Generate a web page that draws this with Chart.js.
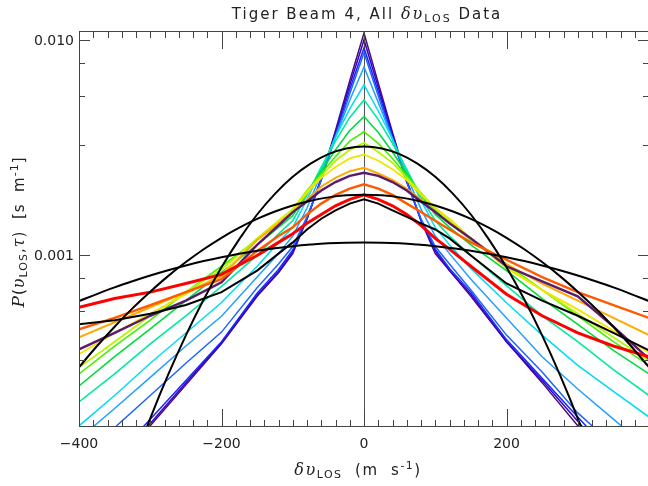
<!DOCTYPE html>
<html>
<head>
<meta charset="utf-8">
<script src="https://cdn.jsdelivr.net/npm/chart.js@4.4.0/dist/chart.umd.min.js"></script>
<style>
  html, body { margin: 0; padding: 0; background: #fff; overflow: hidden; }
  #wrap { width: 650px; height: 486px; }
</style>
</head>
<body>
<div id="wrap"><canvas id="c" width="650" height="486"></canvas></div>
<script>
// velocity bins (m/s) for the measured distributions
const vel = [-400,-350,-300,-250,-200,-150,-120,-100,-80,-60,-40,-20,0,20,40,60,80,100,120,150,200,250,300,350,400];

// P(v) per tau (s/m)
const purple   = [6.76e-5,1.05e-4,1.62e-4,2.51e-4,3.89e-4,6.46e-4,8.32e-4,1.02e-3,1.48e-3,2.29e-3,3.80e-3,6.46e-3,1.076e-2,6.31e-3,3.72e-3,2.24e-3,1.45e-3,1.02e-3,8.51e-4,6.46e-4,3.98e-4,2.57e-4,1.62e-4,1.05e-4,6.76e-5];
const violet   = [6.92e-5,1.07e-4,1.66e-4,2.57e-4,3.94e-4,6.53e-4,8.41e-4,1.035e-3,1.48e-3,2.27e-3,3.72e-3,6.17e-3,1.0e-2,6.03e-3,3.63e-3,2.21e-3,1.46e-3,1.05e-3,8.51e-4,6.61e-4,3.98e-4,2.63e-4,1.70e-4,1.10e-4,7.08e-5];
const blue     = [7.59e-5,1.15e-4,1.74e-4,2.63e-4,3.98e-4,6.68e-4,8.61e-4,1.06e-3,1.48e-3,2.24e-3,3.63e-3,5.89e-3,9.18e-3,5.75e-3,3.55e-3,2.19e-3,1.46e-3,1.07e-3,8.71e-4,6.76e-4,4.07e-4,2.69e-4,1.78e-4,1.18e-4,7.76e-5];
const dodger   = [1.12e-4,1.59e-4,2.24e-4,3.16e-4,4.41e-4,7.08e-4,9.12e-4,1.10e-3,1.51e-3,2.24e-3,3.55e-3,5.62e-3,8.71e-3,5.50e-3,3.47e-3,2.19e-3,1.48e-3,1.10e-3,9.12e-4,6.92e-4,4.27e-4,2.88e-4,1.86e-4,1.32e-4,9.33e-5];
const ltblue   = [1.41e-4,1.95e-4,2.72e-4,3.80e-4,5.22e-4,7.94e-4,1.02e-3,1.23e-3,1.66e-3,2.40e-3,3.55e-3,5.25e-3,7.50e-3,5.13e-3,3.47e-3,2.34e-3,1.64e-3,1.23e-3,1.02e-3,7.76e-4,5.13e-4,3.39e-4,2.40e-4,1.74e-4,1.26e-4];
const cyan     = [1.62e-4,2.24e-4,3.16e-4,4.37e-4,6.05e-4,8.91e-4,1.15e-3,1.35e-3,1.82e-3,2.51e-3,3.55e-3,4.79e-3,6.19e-3,4.68e-3,3.47e-3,2.46e-3,1.80e-3,1.35e-3,1.12e-3,8.71e-4,6.03e-4,4.27e-4,3.09e-4,2.34e-4,1.78e-4];
const aqua     = [2.09e-4,2.82e-4,3.89e-4,5.25e-4,7.18e-4,1.0e-3,1.26e-3,1.45e-3,1.91e-3,2.57e-3,3.39e-3,4.37e-3,5.27e-3,4.27e-3,3.31e-3,2.51e-3,1.86e-3,1.45e-3,1.23e-3,1.0e-3,7.24e-4,5.25e-4,3.98e-4,2.95e-4,2.24e-4];
const green    = [2.48e-4,3.39e-4,4.57e-4,6.17e-4,8.34e-4,1.12e-3,1.35e-3,1.53e-3,1.95e-3,2.46e-3,3.09e-3,3.80e-3,4.41e-3,3.72e-3,3.02e-3,2.40e-3,1.91e-3,1.55e-3,1.35e-3,1.12e-3,8.51e-4,6.31e-4,4.79e-4,3.63e-4,2.82e-4];
const lime     = [2.82e-4,3.80e-4,5.01e-4,6.76e-4,8.91e-4,1.18e-3,1.41e-3,1.62e-3,2.00e-3,2.40e-3,2.88e-3,3.39e-3,3.75e-3,3.31e-3,2.82e-3,2.34e-3,1.95e-3,1.62e-3,1.41e-3,1.18e-3,9.12e-4,6.92e-4,5.25e-4,3.98e-4,3.09e-4];
const ygreen   = [3.02e-4,3.98e-4,5.25e-4,6.76e-4,8.61e-4,1.20e-3,1.45e-3,1.64e-3,2.00e-3,2.34e-3,2.75e-3,3.09e-3,3.33e-3,3.02e-3,2.69e-3,2.29e-3,1.95e-3,1.66e-3,1.45e-3,1.20e-3,8.91e-4,6.92e-4,5.37e-4,4.17e-4,3.24e-4];
const yellow   = [3.48e-4,4.37e-4,5.37e-4,6.61e-4,8.17e-4,1.18e-3,1.45e-3,1.62e-3,1.95e-3,2.29e-3,2.57e-3,2.82e-3,2.94e-3,2.75e-3,2.51e-3,2.24e-3,1.91e-3,1.66e-3,1.48e-3,1.20e-3,8.71e-4,6.92e-4,5.62e-4,4.47e-4,3.55e-4];
const orange   = [4.17e-4,4.90e-4,5.75e-4,6.76e-4,8.00e-4,1.18e-3,1.41e-3,1.59e-3,1.82e-3,2.09e-3,2.29e-3,2.46e-3,2.55e-3,2.40e-3,2.24e-3,2.04e-3,1.82e-3,1.59e-3,1.41e-3,1.20e-3,9.12e-4,7.41e-4,6.17e-4,5.13e-4,4.27e-4];
const plum     = [3.67e-4,4.37e-4,5.25e-4,6.17e-4,7.50e-4,1.12e-3,1.38e-3,1.59e-3,1.78e-3,2.00e-3,2.19e-3,2.34e-3,2.42e-3,2.34e-3,2.19e-3,2.00e-3,1.78e-3,1.59e-3,1.41e-3,1.20e-3,8.91e-4,7.59e-4,6.46e-4,4.68e-4,3.31e-4];
const redorange= [4.54e-4,5.13e-4,5.89e-4,6.76e-4,7.76e-4,1.05e-3,1.23e-3,1.35e-3,1.55e-3,1.74e-3,1.91e-3,2.04e-3,2.14e-3,2.04e-3,1.91e-3,1.74e-3,1.59e-3,1.45e-3,1.32e-3,1.15e-3,9.55e-4,7.94e-4,6.76e-4,5.89e-4,5.13e-4];
const red      = [5.75e-4,6.31e-4,6.76e-4,7.41e-4,8.17e-4,1.0e-3,1.15e-3,1.26e-3,1.41e-3,1.55e-3,1.70e-3,1.82e-3,1.91e-3,1.82e-3,1.70e-3,1.55e-3,1.38e-3,1.20e-3,1.07e-3,8.91e-4,6.61e-4,5.25e-4,4.37e-4,3.80e-4,3.39e-4];
const allData  = [4.79e-4,5.01e-4,5.37e-4,5.89e-4,6.76e-4,8.51e-4,1.02e-3,1.15e-3,1.32e-3,1.48e-3,1.62e-3,1.74e-3,1.82e-3,1.74e-3,1.62e-3,1.51e-3,1.41e-3,1.32e-3,1.20e-3,1.0e-3,7.41e-4,6.17e-4,5.25e-4,4.37e-4,3.63e-4];

// gaussian fits (black)
const fitVel = [-400,-375,-350,-325,-300,-275,-250,-225,-200,-175,-150,-125,-100,-75,-50,-25,0,25,50,75,100,125,150,175,200,225,250,275,300,325,350,375,400];
const fitNarrow = [1.83e-5,3.43e-5,6.15e-5,1.06e-4,1.754e-4,2.79e-4,4.26e-4,6.25e-4,8.81e-4,1.191e-3,1.549e-3,1.932e-3,2.317e-3,2.667e-3,2.951e-3,3.133e-3,3.199e-3,3.133e-3,2.951e-3,2.667e-3,2.317e-3,1.932e-3,1.549e-3,1.191e-3,8.81e-4,6.25e-4,4.26e-4,2.79e-4,1.754e-4,1.06e-4,6.15e-5,3.43e-5,1.83e-5];
const fitMid    = [3.03e-4,3.79e-4,4.67e-4,5.68e-4,6.79e-4,8.02e-4,9.32e-4,1.069e-3,1.208e-3,1.346e-3,1.477e-3,1.600e-3,1.706e-3,1.795e-3,1.860e-3,1.901e-3,1.914e-3,1.901e-3,1.860e-3,1.795e-3,1.706e-3,1.600e-3,1.477e-3,1.346e-3,1.208e-3,1.069e-3,9.32e-4,8.02e-4,6.79e-4,5.68e-4,4.67e-4,3.79e-4,3.03e-4];
const fitWide   = [6.14e-4,6.62e-4,7.11e-4,7.59e-4,8.07e-4,8.54e-4,8.99e-4,9.42e-4,9.82e-4,1.019e-3,1.052e-3,1.080e-3,1.104e-3,1.123e-3,1.138e-3,1.146e-3,1.148e-3,1.146e-3,1.138e-3,1.123e-3,1.104e-3,1.080e-3,1.052e-3,1.019e-3,9.82e-4,9.42e-4,8.99e-4,8.54e-4,8.07e-4,7.59e-4,7.11e-4,6.62e-4,6.14e-4];

// axis ticks
const xMajor = [-400, -200, 0, 200, 400];
const xLabels = ['\u2212400', '\u2212200', '0', '200', ''];
const yMajor = [0.01, 0.001];
const yLabels = ['0.010', '0.001'];
const yMinor = [0.00785, 0.0055, 0.00327, 0.000785, 0.00055, 0.000327];

const series = [
  [purple, '#4b0a7d', 1.5], [violet, '#3a00c8', 1.5], [blue, '#1428ff', 1.5],
  [dodger, '#1e64ff', 1.5], [ltblue, '#23a0ff', 1.5], [cyan, '#00dcf5', 1.5],
  [aqua, '#00eb9b', 1.6], [green, '#00dc3c', 1.6], [lime, '#46f000', 1.6],
  [ygreen, '#b9f500', 1.8], [yellow, '#f0e600', 1.8], [orange, '#ffaa00', 2],
  [plum, '#5a1a6e', 2.4], [redorange, '#ff5a00', 2.4], [red, '#ff0000', 3],
  [allData, '#000000', 2]
];

const pts = (xs, ys) => xs.map((x, i) => ({ x: x, y: ys[i] }));

const datasets = series.map((s, i) => ({
  data: pts(vel, s[0]), borderColor: s[1], borderWidth: s[2],
  pointRadius: 0, tension: 0, order: 40 - i
}));
[fitNarrow, fitMid, fitWide].forEach(f => datasets.push({
  data: pts(fitVel, f), borderColor: '#000', borderWidth: 2,
  pointRadius: 0, tension: 0.4, order: 0
}));

// draws runs of text: [text, font, dy]
function richText(ctx, runs, cx, cy) {
  let w = 0;
  runs.forEach(r => { ctx.font = r[1]; w += ctx.measureText(r[0]).width; });
  let x = cx - w / 2;
  runs.forEach(r => {
    ctx.font = r[1];
    ctx.fillText(r[0], x, cy + (r[2] || 0));
    x += ctx.measureText(r[0]).width;
  });
}

const axes = {
  id: 'axes',
  beforeDatasetsDraw(chart) {
    const { ctx, chartArea: a, scales: { x } } = chart;
    const x0 = Math.round(x.getPixelForValue(0)) + 0.5;
    ctx.save();
    ctx.strokeStyle = '#555'; ctx.lineWidth = 1;
    ctx.beginPath(); ctx.moveTo(x0, a.top); ctx.lineTo(x0, a.bottom); ctx.stroke();
    ctx.restore();
  },
  afterDraw(chart) {
    const { ctx, chartArea: a, scales: { x, y } } = chart;
    ctx.save();
    ctx.strokeStyle = '#444'; ctx.lineWidth = 1;
    ctx.strokeRect(a.left + 0.5, a.top + 0.5, a.right - a.left - 1, a.bottom - a.top - 1);

    ctx.beginPath();
    for (let v = -400; v <= 400; v += 20) {
      const px = Math.round(x.getPixelForValue(v)) + 0.5;
      const len = xMajor.includes(v) ? 18 : 7;
      ctx.moveTo(px, a.bottom); ctx.lineTo(px, a.bottom - len);
      ctx.moveTo(px, a.top); ctx.lineTo(px, a.top + len);
    }
    yMajor.concat(yMinor).forEach(v => {
      const py = Math.round(y.getPixelForValue(v)) + 0.5;
      const len = yMajor.includes(v) ? 11 : 6;
      ctx.moveTo(a.left, py); ctx.lineTo(a.left + len, py);
      ctx.moveTo(a.right, py); ctx.lineTo(a.right - len, py);
    });
    ctx.stroke();

    ctx.fillStyle = '#222';
    ctx.font = '14px "DejaVu Sans"';
    ctx.textBaseline = 'middle';
    ctx.textAlign = 'center';
    xMajor.forEach((v, i) => ctx.fillText(xLabels[i], x.getPixelForValue(v), 444));
    ctx.textAlign = 'right';
    yMajor.forEach((v, i) => ctx.fillText(yLabels[i], a.left - 5, y.getPixelForValue(v) + 1));

    ctx.textAlign = 'left';
    ctx.textBaseline = 'alphabetic';
    const sans = '15px "DejaVu Sans"', sub = '11px "DejaVu Sans"';
    const ital = 'italic 16px "DejaVu Serif"';
    ctx.letterSpacing = '2px';
    richText(ctx, [['Tiger Beam 4, All ', sans], ['\u03b4', ital], ['\u03c5', ital], ['LOS', sub, 3], [' Data', sans]], 367, 19);
    ctx.letterSpacing = '1.5px';
    richText(ctx, [['\u03b4', ital], ['\u03c5', ital], ['LOS', sub, 3], ['  (m  s', sans], ['-1', sub, -6], [')', sans]], 358, 475);

    ctx.letterSpacing = '1px';
    ctx.translate(24, 232);
    ctx.rotate(-Math.PI / 2);
    richText(ctx, [['P', 'italic 17px "DejaVu Serif"'], ['(', sans], ['\u03c5', ital], ['LOS', sub, 3], [',', sans],
      ['\u03c4', ital], [')  [s  m', sans], ['-1', sub, -6], [']', sans]], 0, 0);
    ctx.restore();
  }
};

new Chart(document.getElementById('c'), {
  type: 'line',
  data: { datasets },
  options: {
    responsive: false, animation: false,
    layout: { padding: { left: 79, right: 1, top: 31, bottom: 59 } },
    plugins: { legend: { display: false }, tooltip: { enabled: false } },
    scales: {
      x: { type: 'linear', min: -400, max: 400, display: false },
      y: { type: 'logarithmic', min: 1.6e-4, max: 0.011, display: false }
    }
  },
  plugins: [axes]
});
</script>
</body>
</html>
